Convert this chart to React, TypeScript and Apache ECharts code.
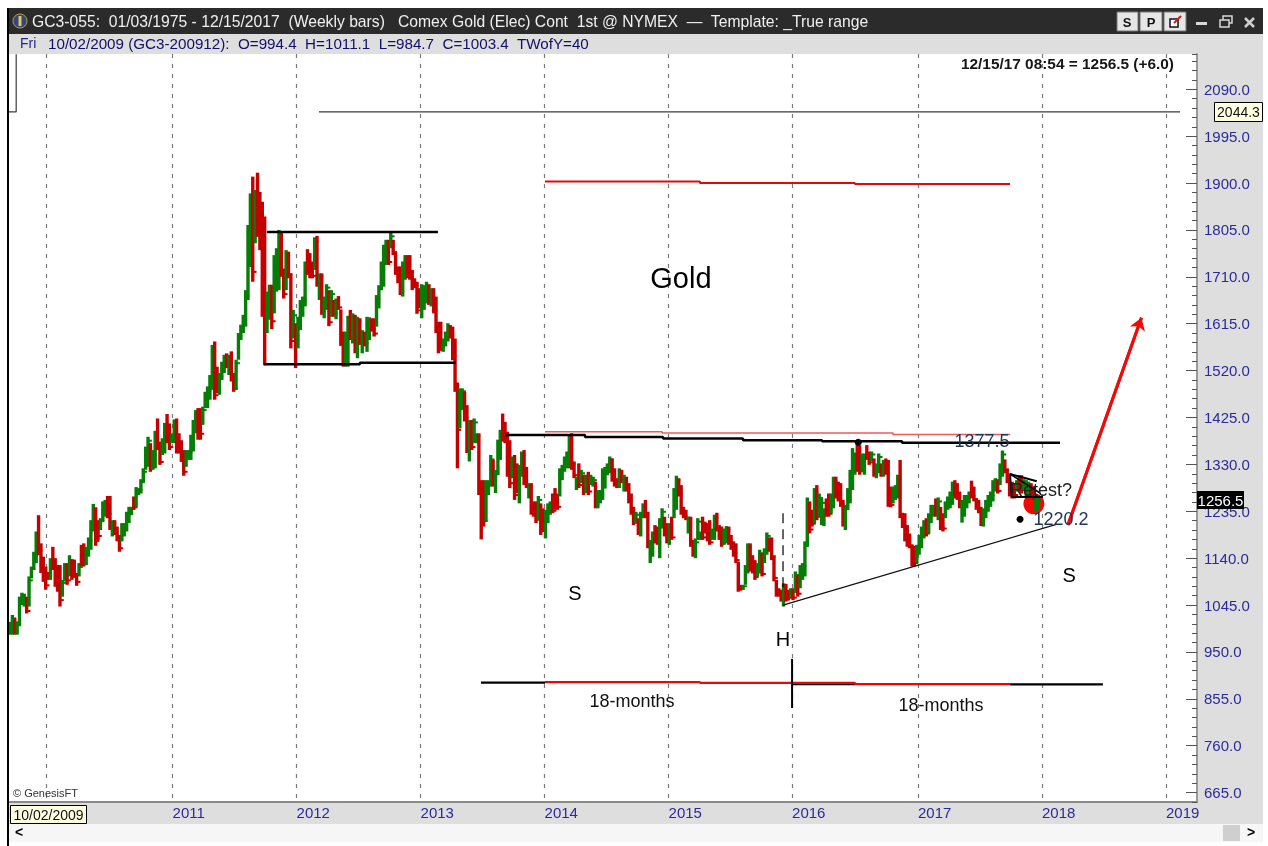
import React, { useEffect, useRef } from "react";
import * as echarts from "echarts";

const highs = [
1011,1025,1018,1012,1062,1070,1068,1062,1103,1123,
1153,1194,1227,1170,1143,1123,1112,1140,1163,1140,
1126,1126,1096,1130,1130,1146,1138,1137,1109,1130,
1167,1170,1163,1182,1217,1250,1243,1217,1221,1255,
1258,1266,1266,1217,1217,1204,1187,1211,1211,1234,
1244,1244,1265,1284,1282,1300,1322,1366,1386,1373,
1359,1398,1423,1376,1383,1414,1432,1413,1393,1421,
1423,1393,1379,1359,1359,1359,1390,1420,1440,1444,
1444,1447,1477,1488,1511,1572,1579,1528,1515,1538,
1552,1555,1552,1559,1515,1542,1596,1613,1633,1683,
1815,1879,1913,1886,1921,1882,1862,1832,1680,1694,
1694,1754,1768,1805,1801,1727,1764,1761,1717,1643,
1616,1629,1663,1670,1741,1766,1758,1741,1790,1793,
1717,1717,1670,1695,1683,1683,1663,1666,1671,1644,
1599,1599,1631,1643,1636,1633,1629,1626,1602,1599,
1629,1628,1626,1626,1673,1693,1741,1775,1785,1785,
1799,1785,1761,1731,1731,1741,1754,1754,1754,1724,
1707,1700,1687,1695,1693,1700,1695,1687,1687,1670,
1619,1619,1585,1599,1616,1612,1609,1585,1496,1484,
1484,1477,1450,1420,1420,1423,1393,1393,1298,1298,
1298,1298,1349,1339,1319,1380,1400,1433,1416,1396,
1379,1346,1349,1332,1329,1356,1359,1325,1292,1292,
1255,1255,1266,1251,1241,1238,1251,1255,1271,1282,
1271,1322,1329,1346,1356,1390,1393,1336,1305,1332,
1319,1309,1309,1315,1309,1305,1295,1278,1278,1322,
1325,1332,1346,1342,1322,1302,1322,1319,1309,1305,
1292,1271,1244,1234,1221,1234,1251,1258,1234,1177,
1194,1207,1204,1221,1241,1224,1211,1211,1224,1282,
1307,1302,1288,1244,1238,1224,1224,1177,1180,1221,
1194,1224,1214,1211,1217,1200,1228,1232,1207,1204,
1200,1205,1204,1187,1174,1170,1133,1086,1086,1126,
1170,1170,1146,1136,1130,1157,1150,1160,1192,1182,
1182,1146,1096,1079,1076,1089,1088,1076,1079,1079,
1113,1106,1126,1130,1174,1263,1255,1238,1282,1288,
1271,1261,1241,1261,1271,1271,1305,1305,1295,1292,
1258,1248,1282,1319,1363,1352,1373,1369,1352,1352,
1369,1356,1356,1342,1332,1352,1332,1339,1342,1339,
1285,1285,1288,1309,1339,1232,1231,1207,1190,1167,
1165,1167,1187,1204,1217,1221,1231,1248,1248,1261,
1263,1244,1231,1255,1265,1275,1295,1298,1292,1275,
1258,1268,1268,1275,1297,1285,1261,1258,1244,1241,
1258,1268,1275,1298,1302,1300,1332,1358,1340,1322,
1312,1295,1292,1298,1308,1308,1300,1298,1295,1292,
1285,1265,1268,
];

const lows = [
985,985,985,985,1002,1045,1042,1028,1042,1099,
1116,1130,1146,1110,1092,1076,1096,1096,1116,1082,
1072,1042,1062,1093,1086,1103,1096,1100,1084,1103,
1124,1123,1126,1143,1157,1194,1165,1177,1197,1214,
1224,1221,1197,1184,1187,1174,1153,1174,1184,1194,
1211,1227,1238,1244,1268,1271,1292,1319,1325,1315,
1319,1322,1359,1329,1349,1352,1373,1359,1373,1373,
1352,1352,1335,1307,1325,1339,1339,1356,1393,1380,
1380,1410,1444,1444,1461,1481,1461,1474,1471,1501,
1515,1525,1511,1498,1477,1481,1542,1582,1596,1609,
1663,1730,1700,1778,1791,1764,1629,1531,1596,1623,
1604,1636,1680,1683,1710,1666,1683,1707,1565,1585,
1525,1565,1602,1629,1650,1714,1707,1707,1724,1690,
1663,1633,1626,1643,1610,1629,1629,1624,1643,1570,
1528,1528,1528,1582,1575,1555,1545,1572,1555,1569,
1558,1582,1599,1589,1609,1646,1683,1690,1734,1734,
1768,1754,1714,1697,1673,1670,1704,1707,1704,1683,
1687,1635,1646,1626,1643,1656,1653,1650,1636,1596,
1555,1562,1558,1569,1579,1585,1541,1477,1322,1403,
1440,1417,1353,1336,1359,1373,1373,1268,1178,1204,
1214,1268,1285,1285,1272,1309,1339,1376,1373,1305,
1282,1302,1258,1272,1251,1305,1288,1282,1261,1228,
1224,1211,1217,1187,1194,1180,1211,1228,1231,1238,
1238,1265,1298,1315,1322,1322,1319,1302,1278,1282,
1292,1268,1272,1268,1288,1285,1241,1241,1251,1258,
1281,1308,1312,1295,1285,1282,1282,1292,1275,1275,
1251,1228,1207,1211,1187,1184,1221,1221,1160,1130,
1143,1170,1167,1140,1200,1184,1170,1167,1177,1221,
1238,1265,1228,1221,1217,1190,1163,1143,1140,1177,
1177,1177,1190,1174,1167,1177,1177,1194,1177,1163,
1167,1170,1167,1157,1143,1130,1072,1074,1076,1086,
1109,1113,1109,1096,1103,1109,1103,1130,1147,1153,
1136,1093,1062,1062,1052,1042,1052,1055,1059,1055,
1069,1062,1079,1096,1103,1163,1190,1204,1211,1217,
1224,1207,1205,1224,1224,1231,1241,1261,1255,1244,
1204,1197,1238,1251,1278,1309,1315,1309,1315,1309,
1339,1329,1336,1305,1302,1312,1305,1305,1309,1244,
1243,1251,1258,1261,1221,1201,1174,1163,1160,1123,
1123,1130,1147,1160,1180,1184,1190,1211,1224,1224,
1217,1197,1194,1221,1238,1241,1248,1261,1258,1241,
1212,1224,1241,1251,1261,1255,1238,1231,1205,1204,
1221,1234,1244,1255,1275,1271,1288,1305,1312,1292,
1265,1261,1261,1275,1275,1271,1278,1265,1268,1265,
1258,1234,1238,
];

const closes = [
1003,1018,992,1005,1055,1062,1052,1033,1095,1118,
1145,1175,1155,1120,1100,1085,1100,1130,1125,1090,
1080,1055,1090,1122,1095,1135,1105,1108,1092,1122,
1130,1130,1155,1175,1205,1240,1175,1185,1215,1245,
1250,1230,1205,1210,1192,1180,1160,1205,1205,1228,
1238,1240,1243,1278,1278,1295,1315,1358,1378,1322,
1350,1390,1365,1335,1375,1405,1380,1365,1388,1415,
1360,1358,1342,1315,1352,1354,1382,1412,1432,1390,
1392,1440,1470,1480,1503,1560,1470,1480,1508,1530,
1545,1530,1545,1505,1483,1535,1590,1605,1625,1672,
1800,1865,1720,1875,1800,1775,1640,1650,1670,1685,
1620,1745,1760,1795,1720,1675,1755,1715,1580,1632,
1590,1620,1655,1662,1730,1722,1715,1712,1780,1700,
1710,1640,1662,1688,1618,1675,1635,1658,1648,1578,
1535,1590,1622,1590,1628,1562,1620,1580,1595,1575,
1620,1620,1604,1595,1665,1685,1732,1765,1778,1740,
1792,1760,1720,1702,1680,1733,1746,1713,1710,1690,
1692,1642,1652,1688,1685,1692,1658,1680,1642,1603,
1562,1568,1580,1592,1610,1590,1550,1490,1400,1475,
1478,1425,1362,1410,1365,1415,1388,1280,1230,1215,
1285,1292,1340,1292,1310,1370,1392,1385,1380,1315,
1292,1338,1268,1280,1320,1348,1295,1288,1285,1240,
1230,1218,1258,1195,1200,1230,1244,1250,1236,1245,
1244,1315,1322,1340,1350,1380,1330,1308,1298,1288,
1312,1275,1302,1275,1302,1298,1248,1272,1272,1314,
1318,1328,1340,1300,1292,1288,1315,1298,1302,1280,
1258,1235,1212,1228,1192,1228,1245,1228,1168,1170,
1186,1176,1172,1212,1234,1190,1177,1204,1182,1275,
1298,1270,1235,1226,1222,1218,1170,1150,1172,1214,
1190,1182,1195,1180,1172,1195,1222,1200,1182,1170,
1194,1198,1172,1162,1150,1136,1080,1078,1083,1120,
1162,1118,1114,1102,1125,1150,1108,1154,1185,1158,
1142,1100,1068,1066,1056,1082,1056,1060,1074,1060,
1106,1068,1120,1124,1165,1250,1198,1210,1274,1224,
1262,1252,1236,1230,1230,1264,1296,1266,1260,1250,
1212,1240,1275,1310,1352,1345,1322,1316,1345,1345,
1344,1334,1350,1310,1326,1345,1310,1332,1314,1252,
1248,1280,1282,1302,1228,1206,1180,1170,1166,1130,
1130,1160,1180,1196,1210,1190,1224,1242,1242,1230,
1255,1204,1200,1248,1258,1268,1288,1266,1264,1248,
1250,1262,1262,1268,1266,1260,1243,1236,1210,1234,
1250,1262,1268,1290,1296,1276,1325,1350,1318,1298,
1272,1266,1268,1292,1280,1278,1294,1290,1288,1270,
1263,1252,1256.5,
];

const barColors =
  "ggrggggrgg" + "ggrrrrrgrr" + "rrggrgrrrg" + "rrggggrrgg" + "grrgrrrggg" +
  "ggrggggggr" + "ggrrggrrgg" + "rrrrgggggr" + "rgggggrrgg" + "grgrrggggg" +
  "ggrgrrrrgg" + "rgggrrgrrg" + "rggggrrrgr" + "grggrgrgrr" + "rggrgrgrgr" +
  "ggrrgggggr" + "grrrrggrrr" + "rrrgggrgrr" + "rrgggrrrrg" + "grrgrggrrr" +
  "gggrgggrrr" + "rgrrggrrgr" + "rrgrrgggrr" + "rgggggrrgr" + "grgrggrggg" +
  "gggrrrgrgr" + "rrrgrggrrg" + "grrggrrgrg" + "grrrrgrrgg" + "grrrrggrrr" +
  "ggrrrrrrgg" + "grrrggrggr" + "rrrrrgrrgr" + "grggggrrgr" + "gggrrggrrr" +
  "rgggggrrgg" + "rrgrggrgrr" + "rgggrrrrrr" + "rggggrgggr" + "grrggggrrr" +
  "ggggrrrrrg" + "gggggrggrr" + "rrrgrrgggr" + "rgg";

// x axis position (in bars) of each year start
const yearTicks = [15.1, 68.3, 120.4, 172.5, 224.6, 276.7, 328.6, 381.5, 433.6, 485.7];
const yearLabels = ["2010", "2011", "2012", "2013", "2014", "2015", "2016", "2017", "2018", "2019"];
const priceTicks = [665, 760, 855, 950, 1045, 1140, 1235, 1330, 1425, 1520, 1615, 1710, 1805, 1900, 1995, 2090];

// drawn annotations: [bar position, price]
const resistance2044 = [[129.8, 2044.3], [491.6, 2044.3]];
const cornerLine = [[2.6, 2161], [2.6, 2044.3], [-0.4, 2044.3]];
const redUpper = [[224.8, 1903], [289.9, 1903], [289.9, 1900], [355, 1900], [355, 1898], [420.2, 1898]];
const boxTop = [[108, 1801], [179.8, 1801]];
const boxBottom = [[106.7, 1533], [147, 1533], [147, 1536], [187.4, 1536]];
const neckBlack = [[208, 1389.5], [241.6, 1389.5], [241.6, 1385.5], [274.4, 1385.5], [274.4, 1382.5], [308, 1382.5], [308, 1379], [341.2, 1379], [341.2, 1377], [374.8, 1377], [374.8, 1374], [441.2, 1374]];
const neckRed = [[224.8, 1396], [274, 1396], [274, 1393.6], [371, 1393.6], [371, 1390.6], [420.2, 1390.6]];
const baseBlackLeft = [[197.9, 888], [224.8, 888]];
const baseRed = [[224.8, 889], [289.9, 889], [289.9, 887.5], [355, 887.5], [355, 885], [420.2, 885]];
const baseBlackMid = [[328.6, 885], [355, 885]];
const baseBlackRight = [[420.2, 884.5], [459.2, 884.5]];
const crossVertical = [[328.6, 936], [328.6, 836.6]];
const headDashed = [[324.8, 1231], [324.8, 1075]];
const riseLine = [[324.8, 1045], [440, 1209]];
const arrowLine = [[444.5, 1207], [475.4, 1627]];
const flagTop = [[420.2, 1310.5], [431.4, 1296]];
const flagBottom = [[420.8, 1264], [434, 1264]];
const flagSide = [[420.2, 1310.5], [420.8, 1264]];
const flagDiagonal = [[420.2, 1310.5], [432.8, 1272]];
const retestCircle = [[430.2, 1250]];
const blackDots = [[356.4, 1375], [424.4, 1219]];
const notes: [number, number, string, number, string][] = [
  [281.9, 1707.6, "Gold", 29, "#000"],
  [237.4, 1069.4, "S", 20, "#000"],
  [445, 1106, "S", 20, "#000"],
  [324.8, 976, "H", 20, "#000"],
  [261.3, 850.6, "18-months", 18, "#111"],
  [391.2, 842.5, "18-months", 18, "#111"],
  [408.4, 1377.5, "1377.5", 18, "#1d3557"],
  [441.6, 1220.2, "1220.2", 18, "#1d3557"],
  [433.2, 1278, "Retest?", 18, "#222"],
];

const FONT = '"Liberation Sans", Arial, sans-serif';
const BLUE = "#2a2a9c";
const GREEN = "#067d06";
const RED = "#c40000";

function lineSeries(data: number[][], color: string, width: number, extra: any = {}) {
  return {
    type: "line",
    data,
    symbol: "none",
    silent: true,
    z: 5,
    lineStyle: { color, width, ...(extra.lineStyle || {}) },
    ...(extra.markLine ? { markLine: extra.markLine } : {}),
  };
}

function txt(text: string, x: number, y: number, font: string, fill: string, align = "left", z = 100) {
  return { type: "text", z, silent: true, style: { text, x, y, font, fill, textAlign: align, textVerticalAlign: "middle" } };
}
function box(x: number, y: number, w: number, h: number, fill: string, z = -1, stroke?: string, lineWidth = 1) {
  return { type: "rect", z, silent: true, shape: { x, y, width: w, height: h }, style: { fill, stroke, lineWidth } };
}
function seg(x1: number, y1: number, x2: number, y2: number, stroke: string, lineWidth: number, z = 100) {
  return { type: "line", z, silent: true, shape: { x1, y1, x2, y2 }, style: { stroke, lineWidth } };
}

function chrome() {
  return [
    box(7, 8, 1256, 26, "#2b2b2b"),
    box(7, 34, 1256, 20, "#dedede"),
    box(1197, 54, 66, 770, "#dedede"),
    box(7, 803, 1190, 21, "#dedede"),
    box(7, 824, 1256, 18, "#f6f6f6"),
    box(1223, 825, 17, 16, "#cfcfcf"),
    box(7, 8, 2, 838, "#000", 50),
    { type: "circle", z: 50, silent: true, shape: { cx: 20, cy: 21, r: 7 }, style: { fill: "#34457f", stroke: "#b9a04a", lineWidth: 1 } },
    box(18.5, 16, 3, 10, "#e2c65a", 51),
    txt("GC3-055:  01/03/1975 - 12/15/2017  (Weekly bars)   Comex Gold (Elec) Cont  1st @ NYMEX  \u2014  Template: _True range", 32, 21, `15.7px ${FONT}`, "#f0f0f0"),
    txt("Fri", 20, 43, `14px ${FONT}`, "#26268f"),
    txt("10/02/2009 (GC3-200912):  O=994.4  H=1011.1  L=984.7  C=1003.4  TWofY=40", 48, 43, `15.2px ${FONT}`, "#10106a"),
    box(1117, 12, 21, 19, "#e6e6e6", 50, "#777"),
    box(1140, 12, 22, 19, "#e6e6e6", 50, "#777"),
    box(1164, 12, 22, 19, "#e6e6e6", 50, "#777"),
    txt("S", 1127, 22, `bold 13px ${FONT}`, "#111", "center"),
    txt("P", 1151, 22, `bold 13px ${FONT}`, "#111", "center"),
    box(1170, 19, 8, 8, "#fff", 51, "#111", 1.5),
    seg(1174, 23, 1181, 16, "#e01010", 2),
    box(1196, 22, 11, 3, "#d8d8d8", 50),
    box(1223, 16, 9, 7, "none", 50, "#d8d8d8", 1.5),
    box(1220, 20, 9, 7, "#2b2b2b", 51, "#d8d8d8", 1.5),
    seg(1245, 18, 1254, 27, "#d0d0d0", 2.5),
    seg(1254, 18, 1245, 27, "#d0d0d0", 2.5),
    txt("12/15/17 08:54 = 1256.5 (+6.0)", 1174, 63, `bold 15.4px ${FONT}`, "#161616", "right"),
    box(1214.5, 102.5, 48, 19, "#ffffe1", 100, "#000", 1),
    txt("2044.3", 1238.5, 112, `14px ${FONT}`, "#111", "center", 101),
    box(1197, 491, 47, 18, "#000", 100),
    txt("1256.5", 1220.5, 500, `15px ${FONT}`, "#fff", "center", 101),
    box(10.5, 805.5, 76, 18, "#ffffe1", 100, "#000", 1),
    txt("10/02/2009", 48.5, 815, `14px ${FONT}`, "#111", "center", 101),
    txt("\u00a9 GenesisFT", 13, 793, `11px ${FONT}`, "#333", "left", 60),
    txt("<", 19, 832, `bold 14px ${FONT}`, "#000", "center", 60),
    txt(">", 1251, 832, `bold 14px ${FONT}`, "#000", "center", 60),
  ];
}

export default function App() {
  const ref = useRef<HTMLDivElement>(null);
  useEffect(() => {
    if (!ref.current) return;
    const chart = echarts.init(ref.current, undefined, { renderer: "svg" });
    const bars = highs.map((h, i) => [i, h, lows[i], i === 0 ? 994.4 : closes[i - 1], closes[i], barColors[i] === "g" ? 1 : 0]);
    const yMin = 646;
    const yMax = 2161.4;
    chart.setOption({
      animation: false,
      backgroundColor: "#ffffff",
      grid: { left: 9, right: 71, top: 54, bottom: 44, containLabel: false },
      xAxis: {
        type: "value",
        min: -0.42,
        max: 498.74,
        axisLine: { show: true, onZero: false, lineStyle: { color: "#8a8a8a", width: 2 } },
        axisTick: { show: false, customValues: yearTicks },
        splitLine: { show: true, lineStyle: { color: "#7a7a7a", width: 1.2, type: [4, 6] } },
        axisLabel: {
          customValues: yearTicks.slice(1),
          formatter: (v: number) => yearLabels[yearTicks.indexOf(v)],
          color: BLUE,
          fontFamily: FONT,
          fontSize: 15,
          align: "left",
          margin: 3,
          showMinLabel: true,
          showMaxLabel: true,
        },
      },
      yAxis: [
        {
          type: "value",
          position: "right",
          min: yMin,
          max: yMax,
          interval: 19,
          splitLine: { show: false },
          axisLine: { show: true, onZero: false, lineStyle: { color: "#9a9a9a", width: 2 } },
          axisTick: { show: true, inside: true, length: 5, lineStyle: { color: "#555", width: 1 } },
          axisLabel: { show: false },
        },
        {
          type: "value",
          position: "right",
          min: yMin,
          max: yMax,
          splitLine: { show: false },
          axisLine: { show: false, onZero: false },
          axisTick: { show: true, inside: true, length: 11, customValues: priceTicks, lineStyle: { color: "#555", width: 1 } },
          axisLabel: {
            customValues: priceTicks,
            formatter: (v: number) => v.toFixed(1),
            color: BLUE,
            fontFamily: FONT,
            fontSize: 15,
            margin: 7,
          },
        },
      ],
      graphic: chrome(),
      series: [
        {
          type: "scatter",
          data: retestCircle,
          symbolSize: 21,
          itemStyle: { color: "#f00808", opacity: 1 },
          silent: true,
          z: 2,
        },
        {
          type: "custom",
          data: bars,
          clip: true,
          silent: true,
          z: 3,
          encode: { x: 0, y: [1, 2, 3, 4] },
          renderItem: (_: any, api: any) => {
            const i = api.value(0);
            const top = api.coord([i, api.value(1)]);
            const bottom = api.coord([i, api.value(2)]);
            const close = api.coord([i, api.value(4)]);
            const stroke = api.value(5) ? GREEN : RED;
            const style = { stroke, lineWidth: 3.4 };
            return {
              type: "group",
              children: [
                { type: "line", shape: { x1: top[0], y1: top[1], x2: bottom[0], y2: bottom[1] }, style },
                { type: "line", shape: { x1: top[0], y1: close[1], x2: top[0] + 3.8, y2: close[1] }, style: { stroke, lineWidth: 2 } },
              ],
            };
          },
        },
        lineSeries(resistance2044, "#3a3a3a", 1.2),
        lineSeries(cornerLine, "#3a3a3a", 1.2),
        lineSeries(redUpper, "#e00a0a", 2),
        lineSeries(boxTop, "#000", 2.5),
        lineSeries(boxBottom, "#000", 2.5),
        lineSeries(neckRed, "#f05a5a", 1.6),
        lineSeries(neckBlack, "#000", 2.5),
        lineSeries(baseBlackLeft, "#000", 2.2),
        lineSeries(baseBlackMid, "#000", 2.2),
        lineSeries(baseRed, "#f00505", 2.2),
        lineSeries(baseBlackRight, "#000", 2.2),
        lineSeries(crossVertical, "#000", 2),
        lineSeries(headDashed, "#000", 1.2, { lineStyle: { type: [10, 6] } }),
        lineSeries(riseLine, "#111", 1.2),
        lineSeries(arrowLine, "#f00a0a", 3, {
          markLine: {
            silent: true,
            animation: false,
            symbol: ["none", "arrow"],
            symbolSize: 12,
            label: { show: false },
            lineStyle: { color: "#f00a0a", width: 3, type: "solid" },
            data: [[{ coord: arrowLine[0] }, { coord: arrowLine[1] }]],
          },
        }),
        lineSeries(flagTop, "#000", 2),
        lineSeries(flagBottom, "#000", 2),
        lineSeries(flagSide, "#000", 1.5),
        lineSeries(flagDiagonal, "#000", 1.5),
        {
          type: "scatter",
          data: blackDots,
          symbolSize: 7,
          itemStyle: { color: "#000", opacity: 1 },
          silent: true,
          z: 6,
        },
        {
          type: "scatter",
          silent: true,
          z: 7,
          symbolSize: 1,
          itemStyle: { color: "rgba(0,0,0,0)", opacity: 1 },
          data: notes.map(([i, p, text, size, color]) => ({
            value: [i, p],
            label: {
              show: true,
              position: "inside",
              formatter: text,
              fontSize: size,
              color,
              opacity: 1,
              fontFamily: FONT,
            },
          })),
        },
      ],
    });
    return () => chart.dispose();
  }, []);
  return <div ref={ref} style={{ position: "absolute", left: 0, top: 0, width: 1268, height: 846, filter: "blur(0.45px)" }} />;
}
